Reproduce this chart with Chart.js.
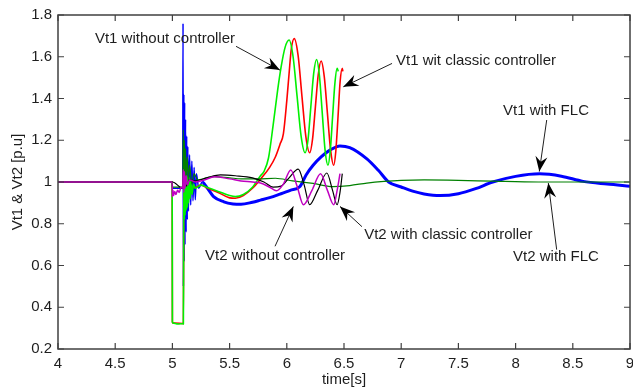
<!DOCTYPE html>
<html><head><meta charset="utf-8">
<script src="https://cdn.jsdelivr.net/npm/chart.js@4.4.1/dist/chart.umd.min.js"></script>
<style>html,body{margin:0;padding:0;background:#fff;}#wrap{width:633px;height:389px;}</style>
</head><body>
<div id="wrap"><canvas id="c" width="633" height="389"></canvas></div>
<script>
// ---- axis ticks / labels ----
const xTicks = [4, 4.5, 5, 5.5, 6, 6.5, 7, 7.5, 8, 8.5, 9];
const xTickLabels = ['4', '4.5', '5', '5.5', '6', '6.5', '7', '7.5', '8', '8.5', '9'];
const yTicks = [0.2, 0.4, 0.6, 0.8, 1.0, 1.2, 1.4, 1.6, 1.8];
const yTickLabels = ['0.2', '0.4', '0.6', '0.8', '1', '1.2', '1.4', '1.6', '1.8'];
const xTitle = 'time[s]';
const yTitle = 'Vt1 & Vt2 [p.u]';

// ---- series (time in s, voltage in p.u.) ----
const vt1NoCtrlT = [4.0, 4.998, 5.0, 5.003, 5.05, 5.09, 5.096, 5.099, 5.102, 5.105, 5.108, 5.111, 5.114, 5.117, 5.12, 5.124, 5.128, 5.132, 5.137, 5.142, 5.148, 5.155, 5.163, 5.172, 5.185, 5.2, 5.25, 5.3, 5.4, 5.5, 5.55, 5.62, 5.7, 5.77, 5.8, 5.84, 5.88, 5.92, 5.95, 5.985, 6.02, 6.055, 6.09, 6.125, 6.16, 6.185, 6.21, 6.235, 6.26, 6.285, 6.31, 6.335, 6.36, 6.38, 6.4, 6.42, 6.44, 6.45];
const vt1NoCtrlV = [1.0, 1.0, 0.33, 0.325, 0.32, 0.322, 0.32, 0.80, 1.06, 0.82, 1.05, 0.84, 1.045, 0.86, 1.04, 0.87, 1.03, 0.88, 1.025, 0.90, 1.02, 0.92, 1.01, 0.94, 0.99, 0.97, 0.985, 0.975, 0.955, 0.935, 0.93, 0.94, 0.975, 1.03, 1.05, 1.115, 1.27, 1.44, 1.55, 1.645, 1.68, 1.60, 1.41, 1.22, 1.14, 1.20, 1.36, 1.52, 1.587, 1.51, 1.33, 1.15, 1.08, 1.15, 1.31, 1.47, 1.545, 1.53];

const vt1ClassicT = [4.0, 4.998, 5.0, 5.003, 5.09, 5.096, 5.1, 5.105, 5.11, 5.115, 5.12, 5.13, 5.14, 5.15, 5.17, 5.2, 5.25, 5.3, 5.4, 5.5, 5.55, 5.62, 5.7, 5.78, 5.85, 5.9, 5.94, 5.97, 6.0, 6.02, 6.04, 6.065, 6.099, 6.1325, 6.166, 6.2, 6.225, 6.25, 6.275, 6.3, 6.3275, 6.355, 6.3825, 6.41, 6.428, 6.4475, 6.466, 6.485, 6.49];
const vt1ClassicV = [1.0, 1.0, 0.33, 0.325, 0.322, 0.32, 1.0, 0.85, 1.03, 0.88, 1.02, 0.9, 1.01, 0.93, 0.97, 0.975, 0.985, 0.972, 0.95, 0.924, 0.922, 0.935, 0.97, 1.02, 1.07, 1.12, 1.18, 1.23, 1.39, 1.52, 1.64, 1.687, 1.605, 1.41, 1.22, 1.14, 1.205, 1.36, 1.515, 1.58, 1.505, 1.33, 1.155, 1.08, 1.145, 1.31, 1.48, 1.545, 1.53];

const vt1FlcT = [4.0, 4.998, 5.0, 5.05, 5.09, 5.093, 5.096, 5.1, 5.103, 5.107, 5.11, 5.115, 5.12, 5.125, 5.13, 5.135, 5.14, 5.15, 5.16, 5.17, 5.18, 5.19, 5.2, 5.21, 5.23, 5.26, 5.3, 5.36, 5.45, 5.53, 5.6, 5.7, 5.77, 5.85, 5.94, 6.03, 6.115, 6.17, 6.23, 6.3, 6.38, 6.465, 6.55, 6.7, 6.8, 6.89, 7.0, 7.1, 7.2, 7.34, 7.5, 7.65, 7.8, 8.0, 8.21, 8.4, 8.59, 8.8, 9.0];
const vt1FlcV = [1.0, 1.0, 0.97, 0.97, 0.97, 1.76, 0.5, 1.42, 0.62, 1.38, 0.7, 1.3, 0.76, 1.22, 0.82, 1.17, 0.86, 1.13, 0.89, 1.1, 0.91, 1.07, 0.915, 1.04, 0.97, 1.0, 0.975, 0.93, 0.905, 0.895, 0.893, 0.903, 0.913, 0.925, 0.942, 0.96, 0.979, 1.035, 1.08, 1.12, 1.154, 1.173, 1.165, 1.111, 1.056, 1.0, 0.976, 0.956, 0.943, 0.935, 0.944, 0.968, 1.0, 1.027, 1.039, 1.028, 1.003, 0.99, 0.98];

const vt2NoCtrlT = [4.0, 4.998, 5.0, 5.005, 5.01, 5.02, 5.03, 5.045, 5.06, 5.075, 5.09, 5.095, 5.1, 5.105, 5.11, 5.12, 5.13, 5.15, 5.2, 5.27, 5.37, 5.5, 5.6, 5.7, 5.77, 5.85, 5.91, 5.97, 6.035, 6.09, 6.145, 6.22, 6.295, 6.355, 6.41, 6.44, 6.465];
const vt2NoCtrlV = [1.0, 1.0, 0.93, 0.96, 0.935, 0.955, 0.94, 0.96, 0.95, 0.975, 0.97, 1.06, 0.95, 1.05, 0.97, 1.03, 0.985, 1.01, 1.0, 1.008, 1.025, 1.015, 1.005, 1.0, 0.995, 0.975, 0.958, 0.99, 1.058, 0.98, 0.891, 0.96, 1.04, 0.96, 0.891, 0.96, 1.04];

const vt2ClassicT = [4.0, 5.0, 5.09, 5.1, 5.12, 5.15, 5.2, 5.3, 5.42, 5.55, 5.7, 5.8, 5.88, 5.95, 6.02, 6.1, 6.15, 6.2, 6.27, 6.35, 6.4, 6.44, 6.465, 6.485];
const vt2ClassicV = [1.0, 1.0, 0.97, 1.03, 0.98, 1.01, 1.005, 1.02, 1.034, 1.03, 1.02, 1.0, 0.975, 0.98, 1.02, 1.062, 0.99, 0.891, 0.96, 1.043, 0.96, 0.891, 0.95, 1.04];

const vt2FlcT = [4.0, 4.998, 5.0, 5.05, 5.09, 5.095, 5.1, 5.105, 5.11, 5.115, 5.12, 5.13, 5.14, 5.15, 5.17, 5.19, 5.22, 5.3, 5.36, 5.5, 5.6, 5.75, 5.9, 6.05, 6.23, 6.4, 6.55, 6.7, 6.85, 7.0, 7.2, 7.5, 7.8, 8.2, 8.6, 9.0];
const vt2FlcV = [1.0, 1.0, 0.975, 0.975, 0.975, 1.25, 0.98, 1.2, 0.99, 1.16, 1.0, 1.12, 1.0, 1.08, 0.99, 1.04, 1.01, 1.02, 1.026, 1.02, 1.015, 1.015, 1.018, 1.005, 0.993, 0.978, 0.983, 0.995, 1.003, 1.008, 1.01, 1.008, 1.004, 1.0, 1.0, 1.0];

// ---- annotation texts ----
const noteTexts = ['Vt1 without controller', 'Vt1 wit classic controller', 'Vt1 with FLC', 'Vt2 with FLC', 'Vt2 without controller', 'Vt2 with classic controller'];

// annotation placement (data coordinates): text centre, arrow tail, arrow tip
const notePlacement = [
  {tx: 4.935, ty: 1.686, ax: 5.556, ay: 1.65, bx: 5.94, by: 1.536},
  {tx: 7.654, ty: 1.579, ax: 6.92, ay: 1.568, bx: 6.494, by: 1.456},
  {tx: 8.266, ty: 1.340, ax: 8.272, ay: 1.297, bx: 8.207, by: 1.05},
  {tx: 8.353, ty: 0.640, ax: 8.359, ay: 0.676, bx: 8.286, by: 0.995},
  {tx: 5.897, ty: 0.648, ax: 5.897, ay: 0.692, bx: 6.057, by: 0.883},
  {tx: 7.412, ty: 0.748, ax: 6.657, ay: 0.786, bx: 6.465, by: 0.883}
];

function pts(t, v) { return t.map((x, i) => ({x: x, y: v[i]})); }

const FONT = {family: "'Liberation Sans', Arial, sans-serif", size: 15};
const TXT = '#1e1e1e';

function drawArrow(ctx, x1, y1, x2, y2) {
  ctx.beginPath(); ctx.moveTo(x1, y1); ctx.lineTo(x2, y2); ctx.stroke();
  const ang = Math.atan2(y2 - y1, x2 - x1);
  const L = 15, W = 6, N = 10;
  ctx.save(); ctx.translate(x2, y2); ctx.rotate(ang);
  ctx.beginPath(); ctx.moveTo(0, 0); ctx.lineTo(-L, -W); ctx.lineTo(-N, 0); ctx.lineTo(-L, W); ctx.closePath(); ctx.fill();
  ctx.restore();
}

const framePlugin = {
  id: 'framePlugin',
  afterDatasetsDraw(chart) {
    const ctx = chart.ctx, a = chart.chartArea, xs = chart.scales.x, ys = chart.scales.y;
    ctx.save();
    ctx.strokeStyle = '#404040'; ctx.lineWidth = 1.5;
    ctx.strokeRect(a.left, a.top, a.right - a.left, a.bottom - a.top);
    ctx.lineWidth = 1.2;
    const tl = 6;
    ctx.beginPath();
    xTicks.forEach(v => {
      const p = xs.getPixelForValue(v);
      ctx.moveTo(p, a.bottom); ctx.lineTo(p, a.bottom - tl);
      ctx.moveTo(p, a.top); ctx.lineTo(p, a.top + tl);
    });
    yTicks.forEach(v => {
      const p = ys.getPixelForValue(v);
      ctx.moveTo(a.left, p); ctx.lineTo(a.left + tl, p);
      ctx.moveTo(a.right, p); ctx.lineTo(a.right - tl, p);
    });
    ctx.stroke();
    // annotations
    ctx.font = FONT.size + 'px ' + FONT.family;
    ctx.fillStyle = TXT; ctx.textAlign = 'center'; ctx.textBaseline = 'middle';
    noteTexts.forEach((t, i) => {
      const n = notePlacement[i];
      ctx.fillText(t, xs.getPixelForValue(n.tx), ys.getPixelForValue(n.ty));
    });
    ctx.strokeStyle = '#202020'; ctx.fillStyle = '#000'; ctx.lineWidth = 1;
    notePlacement.forEach(n => {
      drawArrow(ctx, xs.getPixelForValue(n.ax), ys.getPixelForValue(n.ay), xs.getPixelForValue(n.bx), ys.getPixelForValue(n.by));
    });
    ctx.restore();
  }
};

new Chart(document.getElementById('c'), {
  type: 'line',
  data: {
    datasets: [
      {label: 'Vt2 without controller', data: pts(vt2NoCtrlT, vt2NoCtrlV), borderColor: '#c000c0', borderWidth: 1.5, order: 0},
      {label: 'Vt2 with classic controller', data: pts(vt2ClassicT, vt2ClassicV), borderColor: '#000000', borderWidth: 1.2, order: 1},
      {label: 'Vt2 with FLC', data: pts(vt2FlcT, vt2FlcV), borderColor: '#008000', borderWidth: 1.2, order: 2},
      {label: 'Vt1 without controller', data: pts(vt1NoCtrlT, vt1NoCtrlV), borderColor: '#00f000', borderWidth: 1.6, order: 3},
      {label: 'Vt1 with classic controller', data: pts(vt1ClassicT, vt1ClassicV), borderColor: '#ff0000', borderWidth: 1.6, order: 4},
      {label: 'Vt1 with FLC', data: pts(vt1FlcT, vt1FlcV), borderColor: '#0000ff', borderWidth: 3, order: 5,
        segment: {borderWidth: c => c.p0.parsed.x < 5.24 ? 1.5 : 3}}
    ]
  },
  options: {
    responsive: false,
    animation: false,
    events: [],
    elements: {point: {radius: 0}, line: {cubicInterpolationMode: 'monotone', borderJoinStyle: 'round', fill: false}},
    plugins: {legend: {display: false}, tooltip: {enabled: false}},
    layout: {padding: {top: 15, right: 3, left: 0, bottom: 0}},
    scales: {
      x: {
        type: 'linear', min: 4, max: 9,
        afterBuildTicks: s => { s.ticks = xTicks.map(v => ({value: v})); },
        afterFit: s => { s.height = 40; s.paddingLeft = 0; s.paddingRight = 0; },
        grid: {display: false, drawTicks: false},
        border: {display: false},
        ticks: {callback: (v, i) => xTickLabels[i], padding: 6, font: FONT, color: TXT, maxRotation: 0, autoSkip: false},
        title: {display: true, text: xTitle, font: FONT, color: TXT, padding: {top: 0, bottom: 0}}
      },
      y: {
        type: 'linear', min: 0.2, max: 1.8,
        afterBuildTicks: s => { s.ticks = yTicks.map(v => ({value: v})); },
        afterFit: s => { s.width = 58; s.paddingTop = 0; s.paddingBottom = 0; },
        grid: {display: false, drawTicks: false},
        border: {display: false},
        ticks: {callback: (v, i) => yTickLabels[i], padding: 6, font: FONT, color: TXT, autoSkip: false},
        title: {display: true, text: yTitle, font: FONT, color: TXT, padding: {top: 9, bottom: 0}}
      }
    }
  },
  plugins: [framePlugin]
});
</script>
</body></html>
